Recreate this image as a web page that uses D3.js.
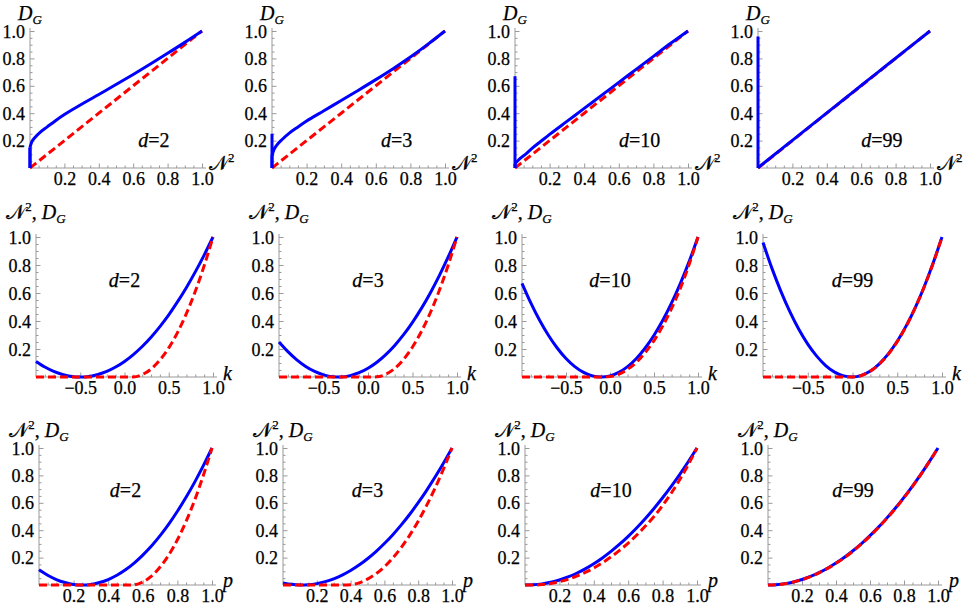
<!DOCTYPE html>
<meta charset="utf-8">
<style>
    html,
    body {
        margin: 0;
        padding: 0;
        background: #fff;
    }

    text {
        font-family: "Liberation Serif", "Times New Roman", serif;
        fill: #000;
        stroke: #000;
        stroke-width: 0.25px;
    }

    .axis line,
    .axis path {
        stroke: #999;
    }

    .blue {
        fill: none;
        stroke: #0000ff;
        stroke-width: 3;
    }

    .red {
        fill: none;
        stroke: #ff0000;
        stroke-width: 3;
        stroke-dasharray: 8, 4;
    }
</style>
<svg id="canvas" width="970" height="611"></svg>
<script src="https://d3js.org/d3.v7.min.js"></script>
<script>
    const dims = [2, 3, 10, 99];

    // row 1: D_G against N^2
    const n2Grid = [0, 0.01, 0.03, 0.06, 0.1, 0.15, 0.2, 0.3, 0.4, 0.5, 0.6, 0.7, 0.8, 0.9, 1];
    const dgVsN2 = [
        [0.15, 0.19, 0.224, 0.262, 0.30, 0.347, 0.39, 0.465, 0.537, 0.609, 0.683, 0.759, 0.837, 0.917, 1],
        [0.09, 0.13, 0.17, 0.21, 0.255, 0.30, 0.343, 0.418, 0.493, 0.568, 0.645, 0.725, 0.81, 0.902, 1],
        [0.03, 0.045, 0.07, 0.10, 0.145, 0.195, 0.245, 0.34, 0.435, 0.53, 0.625, 0.72, 0.815, 0.91, 1],
        [0.002, 0.012, 0.032, 0.062, 0.102, 0.152, 0.202, 0.302, 0.402, 0.502, 0.602, 0.702, 0.801, 0.901, 1]
    ];
    // height of the vertical piece at N^2 = 0
    const dgAtZero = [0.15, 0.25, 0.67, 0.96];

    // row 2: against k
    const kGrid = [-1, -0.9, -0.8, -0.7, -0.6, -0.5, -0.4, -0.3, -0.2, -0.1, 0, 0.1, 0.2, 0.3, 0.4, 0.5, 0.6, 0.7, 0.8, 0.9, 1];
    const dgVsK = [
        [0.111, 0.071, 0.040, 0.018, 0.004, 0, 0.004, 0.018, 0.040, 0.071, 0.111, 0.160, 0.218, 0.284, 0.360, 0.444, 0.538, 0.640, 0.751, 0.871, 1],
        [0.25, 0.181, 0.1225, 0.0756, 0.040, 0.0156, 0.0025, 0.0006, 0.010, 0.0306, 0.0625, 0.1056, 0.16, 0.2256, 0.3025, 0.3906, 0.49, 0.6006, 0.7225, 0.8556, 1],
        [0.669, 0.529, 0.405, 0.298, 0.207, 0.132, 0.074, 0.033, 0.008, 0, 0.008, 0.033, 0.074, 0.132, 0.207, 0.298, 0.405, 0.529, 0.669, 0.826, 1],
        [0.96, 0.776, 0.612, 0.467, 0.341, 0.235, 0.149, 0.082, 0.035, 0.008, 0.0001, 0.012, 0.043, 0.094, 0.165, 0.255, 0.365, 0.494, 0.643, 0.812, 1]
    ];
    const n2VsK = [
        [0, 0, 0, 0, 0, 0, 0, 0, 0, 0, 0, 0.0005, 0.017, 0.057, 0.121, 0.208, 0.319, 0.454, 0.612, 0.794, 1],
        [0, 0, 0, 0, 0, 0, 0, 0, 0, 0, 0, 0.001, 0.0195, 0.061, 0.126, 0.214, 0.325, 0.459, 0.616, 0.797, 1],
        [0, 0, 0, 0, 0, 0, 0, 0, 0, 0, 0.003, 0.02, 0.055, 0.105, 0.175, 0.26, 0.365, 0.49, 0.635, 0.805, 1],
        [0, 0, 0, 0, 0, 0, 0, 0, 0, 0, 0, 0.011, 0.042, 0.093, 0.163, 0.253, 0.363, 0.493, 0.642, 0.811, 1]
    ];

    // row 3: against p
    const pGrid = [0, 0.05, 0.1, 0.15, 0.2, 0.25, 0.3, 0.35, 0.4, 0.45, 0.5, 0.55, 0.6, 0.65, 0.7, 0.75, 0.8, 0.85, 0.9, 0.95, 1];
    const dgVsP = [
        [0.111, 0.071, 0.040, 0.018, 0.004, 0, 0.004, 0.018, 0.040, 0.071, 0.111, 0.160, 0.218, 0.284, 0.360, 0.444, 0.538, 0.640, 0.751, 0.871, 1],
        [0.0156, 0.0047, 0.0002, 0.0019, 0.010, 0.0244, 0.0452, 0.0722, 0.1056, 0.1454, 0.1914, 0.2438, 0.3025, 0.3675, 0.4389, 0.5166, 0.6006, 0.691, 0.7877, 0.8906, 1],
        [0.0001, 0.0016, 0.0083, 0.02, 0.0368, 0.0588, 0.0858, 0.1179, 0.1552, 0.1975, 0.245, 0.2975, 0.3552, 0.4179, 0.4858, 0.5587, 0.6368, 0.7199, 0.8082, 0.9015, 1],
        [0, 0.0025, 0.01, 0.0225, 0.04, 0.0625, 0.09, 0.1225, 0.16, 0.2025, 0.25, 0.3025, 0.36, 0.4225, 0.49, 0.5625, 0.64, 0.7225, 0.81, 0.9025, 1]
    ];
    const n2VsP = [
        [0, 0, 0, 0, 0, 0, 0, 0, 0, 0, 0, 0.0018, 0.022, 0.065, 0.131, 0.219, 0.33, 0.464, 0.62, 0.80, 1],
        [0, 0, 0, 0, 0, 0, 0, 0, 0.002, 0.016, 0.043, 0.082, 0.133, 0.198, 0.274, 0.364, 0.466, 0.581, 0.708, 0.848, 1],
        [0, 0, 0.003, 0.011, 0.024, 0.041, 0.064, 0.092, 0.124, 0.162, 0.205, 0.253, 0.306, 0.365, 0.43, 0.50, 0.58, 0.67, 0.77, 0.88, 1],
        [0, 0.002, 0.0095, 0.022, 0.039, 0.061, 0.089, 0.121, 0.158, 0.2, 0.247, 0.3, 0.357, 0.42, 0.487, 0.559, 0.637, 0.72, 0.808, 0.902, 1]
    ];

    // ticks
    const unitTicks = [0.2, 0.4, 0.6, 0.8, 1.0];
    const unitMinor = d3.range(1, 20).map(i => i * 0.05).filter(v => Math.abs(v * 5 - Math.round(v * 5)) > 1e-6);
    const kTicks = [-0.5, 0, 0.5, 1.0];
    const kMinor = d3.range(-9, 10).map(i => i * 0.1).filter(v => Math.abs(v * 2 - Math.round(v * 2)) > 1e-6);

    // panel layout (pixels)
    const rowTop = [31, 237, 448];
    const rowBottom = [168, 377, 585];
    const colLeft = [[30, 272, 515, 758], [36, 279, 522, 763], [39, 283, 525, 768]];
    const colRight = [[202, 445, 688, 930], [213, 457, 698, 942], [212, 452, 697, 938]];
    const yLabelBase = [20, 219, 437];

    var svg = d3.select("svg");
    var fmt = d3.format(".1f");

    // pieces of the axis labels
    const labN2 = [{ t: "𝒩" }, { t: "2", sup: true }];
    const labDG = [{ t: "D", it: true }, { t: "G", it: true, sub: true }];
    const labBoth = labN2.concat([{ t: ", " }], labDG);

    function richText(g, parts, x, y, anchor) {
        var txt = g.append("text")
            .attr("x", x).attr("y", y)
            .attr("text-anchor", anchor)
            .style("font-size", "20px");
        var shift = 0;
        parts.forEach(function(p) {
            var want = p.sup ? -8 : (p.sub ? 4 : 0);
            txt.append("tspan")
                .attr("dy", want - shift)
                .style("font-style", p.it ? "italic" : "normal")
                .style("font-size", (p.sup || p.sub) ? "13px" : "20px")
                .text(p.t);
            shift = want;
        });
        return txt;
    }

    function panel(r, c, cfg) {
        var x0 = colLeft[r][c], x1 = colRight[r][c];
        var top = rowTop[r], bottom = rowBottom[r];
        var x = d3.scaleLinear().domain(cfg.xDomain).range([x0, x1]);
        var y = d3.scaleLinear().domain([0, 1]).range([bottom, top]);
        var g = svg.append("g");

        // axes lines
        g.append("line").attr("x1", x0).attr("x2", x1 + 4).attr("y1", bottom).attr("y2", bottom)
            .style("stroke", "#999");
        g.append("line").attr("x1", x0).attr("x2", x0).attr("y1", bottom).attr("y2", top - 3)
            .style("stroke", "#999");

        // minor ticks
        g.append("g").attr("class", "axis").attr("transform", `translate(0,${bottom})`)
            .call(d3.axisBottom(x).tickValues(cfg.xMinor).tickSize(-2.5).tickFormat(""))
            .call(a => a.select(".domain").remove());
        g.append("g").attr("class", "axis").attr("transform", `translate(${x0},0)`)
            .call(d3.axisLeft(y).tickValues(unitMinor).tickSize(-2.5).tickFormat(""))
            .call(a => a.select(".domain").remove());

        // major ticks + labels
        var xa = g.append("g").attr("class", "axis").attr("transform", `translate(0,${bottom})`)
            .call(d3.axisBottom(x).tickValues(cfg.xTicks).tickSize(-4.5).tickPadding(4).tickFormat(fmt));
        xa.select(".domain").remove();
        var ya = g.append("g").attr("class", "axis").attr("transform", `translate(${x0},0)`)
            .call(d3.axisLeft(y).tickValues(unitTicks).tickSize(-4.5).tickPadding(5).tickFormat(fmt));
        ya.select(".domain").remove();
        g.selectAll(".axis text")
            .style("font-family", "'Liberation Serif', serif")
            .style("font-size", "18px")
            .style("fill", "#000");
        ya.selectAll("text").attr("dy", "0.34em");

        // curves
        var line = d3.line().x(d => x(d[0])).y(d => y(d[1])).curve(d3.curveMonotoneX);
        var straight = d3.line().x(d => x(d[0])).y(d => y(d[1]));
        cfg.draw(g, line, straight);

        // axis labels
        richText(g, cfg.yLabel, x0, yLabelBase[r], "middle");
        richText(g, cfg.xLabel, x1 + cfg.xLabelGap, bottom + cfg.xLabelDrop, "start");

        // d = ...
        var dt = g.append("text")
            .attr("x", x(cfg.dPos[0])).attr("y", y(cfg.dPos[1]))
            .attr("text-anchor", "middle")
            .style("font-size", "20px");
        dt.append("tspan").style("font-style", "italic").text("d");
        dt.append("tspan").text("=" + dims[c]);
    }

    dims.forEach(function(d, c) {
        // row 1
        panel(0, c, {
            xDomain: [0, 1], xTicks: unitTicks, xMinor: unitMinor,
            xLabel: labN2, xLabelGap: 7, xLabelDrop: 2, yLabel: labDG, dPos: [0.72, 0.15],
            draw: function(g, line, straight) {
                g.append("path").attr("class", "red")
                    .attr("d", straight(n2Grid.map(v => [v, v])));
                g.append("path").attr("class", "blue")
                    .attr("d", straight([[0, 0], [0, dgAtZero[c]]]));
                g.append("path").attr("class", "blue")
                    .attr("d", line(n2Grid.map((v, i) => [v, dgVsN2[c][i]])));
                g.append("path").attr("class", "blue")
                    .attr("d", straight([[0, 0], [0, dgVsN2[c][0]]]));
            }
        });
        // row 2
        panel(1, c, {
            xDomain: [-1, 1], xTicks: kTicks, xMinor: kMinor,
            xLabel: [{ t: "k", it: true }], xLabelGap: 10, xLabelDrop: 3, yLabel: labBoth, dPos: [0, 0.64],
            draw: function(g, line) {
                g.append("path").attr("class", "blue")
                    .attr("d", line(kGrid.map((v, i) => [v, dgVsK[c][i]])));
                g.append("path").attr("class", "red")
                    .attr("d", line(kGrid.map((v, i) => [v, n2VsK[c][i]])));
            }
        });
        // row 3
        panel(2, c, {
            xDomain: [0, 1], xTicks: unitTicks, xMinor: unitMinor,
            xLabel: [{ t: "p", it: true }], xLabelGap: 11, xLabelDrop: 2, yLabel: labBoth, dPos: [0.5, 0.64],
            draw: function(g, line) {
                g.append("path").attr("class", "blue")
                    .attr("d", line(pGrid.map((v, i) => [v, dgVsP[c][i]])));
                g.append("path").attr("class", "red")
                    .attr("d", line(pGrid.map((v, i) => [v, n2VsP[c][i]])));
            }
        });
    });
</script>
